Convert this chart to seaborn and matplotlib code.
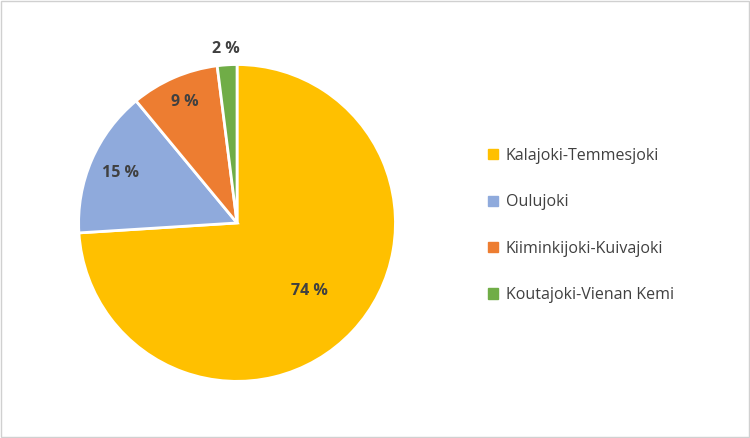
import matplotlib
matplotlib.use("Agg")
import matplotlib.pyplot as plt
import seaborn as sns
import numpy as np

sns.set_theme(style="white")
plt.rcParams['font.family'] = ['Open Sans', 'DejaVu Sans']

categories = ["Kalajoki-Temmesjoki", "Oulujoki", "Kiiminkijoki-Kuivajoki", "Koutajoki-Vienan Kemi"]
values = [74, 15, 9, 2]
labels = ["74 %", "15 %", "9 %", "2 %"]
colors = ["#FFC000", "#8FAADC", "#ED7D31", "#70AD47"]
label_dist = [0.63, 0.8, 0.83, 1.1]

fig = plt.figure(figsize=(7.5, 4.38), dpi=100)
fig.patch.set_facecolor("white")
fig.add_artist(plt.Rectangle((0.001, 0.002), 0.997, 0.995, transform=fig.transFigure,
                             fill=False, edgecolor="#D0D0D0", lw=1))
ax = fig.add_axes([0.316 - 0.2133, 0.491 - 0.3653, 0.4267, 0.7306])
wedges, _ = ax.pie(values, colors=colors, startangle=90, counterclock=False,
                   wedgeprops=dict(edgecolor="white", linewidth=2))
for w, lab, d in zip(wedges, labels, label_dist):
    ang = np.deg2rad((w.theta1 + w.theta2) / 2)
    ax.text(d * np.cos(ang), d * np.sin(ang), lab, ha="center", va="center",
            fontsize=11.5, fontweight="bold", color="#404040", clip_on=False)
ax.set_xlim(-1.01, 1.01)
ax.set_ylim(-1.01, 1.01)
ax.set_aspect("equal")

handles = [plt.Rectangle((0, 0), 1, 1, color=c) for c in colors]
fig.legend(handles, categories, loc="center left", bbox_to_anchor=(0.632, 0.485),
           frameon=False, fontsize=11.5, labelcolor="#404040",
           handlelength=0.6, handleheight=0.6, labelspacing=1.9, handletextpad=0.5)
fig.savefig("out.png", dpi=100)
